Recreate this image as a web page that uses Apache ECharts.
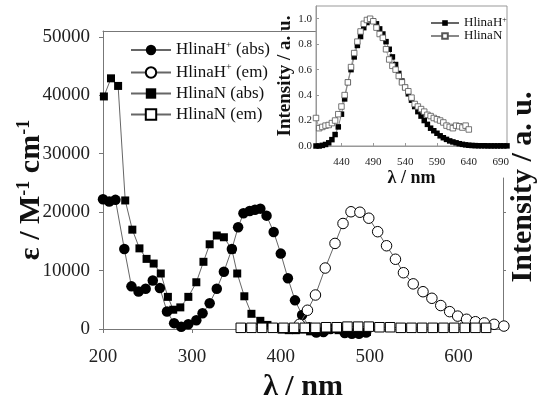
<!DOCTYPE html>
<html><head><meta charset="utf-8">
<script src="https://cdn.jsdelivr.net/npm/echarts@6/dist/echarts.min.js"></script>
<style>html,body{margin:0;padding:0;background:#fff}#c{width:540px;height:396px}</style>
</head><body><div id="c"></div>
<script>
// ---- main chart data (wavelength nm, value) ----
const hlinaHAbs = [[200,22200],[207,21800],[214,22100],[224,13700],[232,7300],[240,6400],[248,6900],[256,8300],[264,7000],[272,3000],[280,1000],[288,400],[296,800],[305,1500],[312,2700],[320,4400],[328,6900],[336,9800],[345,13700],[352,17400],[358,19800],[365,20200],[371,20400],[377,20600],[384,19400],[392,16600],[400,12900],[408,8700],[416,4900],[424,2400],[432,300],[440,-600],[448,-500],[456,0],[464,100],[472,-700],[480,-800],[488,-800],[496,-600]];
const hlinaNAbs = [[201,39800],[209,42900],[217,41600],[225,22000],[233,17000],[241,13800],[249,12000],[257,11200],[265,9500],[273,5500],[279,3300],[287,3700],[296,5500],[305,8000],[313,11500],[320,14500],[328,16000],[336,15700],[345,13600],[351,9500],[359,5600],[367,2600],[377,1400],[385,700],[393,200],[401,-100],[409,-200],[417,-200],[425,-100],[433,-400],[441,-500],[449,-300],[457,0],[465,-200],[473,-500],[481,-600],[489,-600],[497,-500]];
const hlinaHEm = [[421,0.04],[430,0.16],[439,0.29],[450,0.52],[461,0.73],[470,0.9],[479,1.0],[489,0.996],[499,0.945],[509,0.83],[519,0.71],[529,0.595],[538,0.48],[549,0.385],[560,0.318],[570,0.262],[580,0.2],[590,0.148],[599,0.11],[609,0.083],[619,0.062],[629,0.052],[640,0.04],[651,0.025]];
const hlinaNEm = [[355,0.01],[367,0.01],[379,0.01],[391,0.01],[403,0.01],[415,0.01],[427,0.01],[439,0.01],[451,0.015],[463,0.015],[475,0.02],[487,0.02],[499,0.02],[511,0.015],[523,0.015],[535,0.01],[547,0.01],[559,0.01],[571,0.01],[583,0.01],[595,0.01],[607,0.01],[619,0.01],[631,0.01]];
const mainXTicks = [200,300,400,500,600];
const mainYTicks = [0,10000,20000,30000,40000,50000];
const rightYTicks = [0.5,1.0];

// ---- inset data ----
const insetWlH = [400,405,410,415,420,425,430,435,440,445,450,455,460,465,470,475,480,485,490,495,500,505,510,515,520,525,530,535,540,545,550,555,560,565,570,575,580,585,590,595,600,605,610,615,620,625,630,635,640,645,650,655,660,665,670,675,680,685,690,695,700];
const insetHlinaH = [0,0,0.005,0.012,0.025,0.05,0.09,0.15,0.25,0.37,0.5,0.6,0.7,0.79,0.86,0.93,0.97,0.99,0.98,0.96,0.92,0.88,0.82,0.76,0.7,0.64,0.57,0.51,0.46,0.41,0.36,0.31,0.27,0.235,0.2,0.17,0.14,0.12,0.1,0.08,0.065,0.052,0.04,0.032,0.025,0.018,0.013,0.009,0.006,0.004,0.003,0.002,0.002,0.002,0.001,0.001,0.001,0.001,0.001,0.001,0.001];
const insetWlN = [400,405,410,415,420,425,430,435,440,445,450,455,460,465,470,475,480,485,490,495,500,505,510,515,520,525,530,535,540,545,550,555,560,565,570,575,580,585,590,595,600,605,610,615,620,625,630,635,640];
const insetHlinaN = [0.22,0.14,0.15,0.16,0.165,0.18,0.2,0.25,0.31,0.4,0.5,0.62,0.73,0.82,0.9,0.96,0.99,1.0,0.98,0.93,0.88,0.85,0.76,0.68,0.63,0.6,0.55,0.5,0.46,0.43,0.38,0.33,0.31,0.29,0.27,0.245,0.235,0.22,0.21,0.2,0.185,0.16,0.15,0.14,0.16,0.155,0.145,0.16,0.13];
const insetXTicks = [440,490,540,590,640,690];
const insetYTicks = [0,0.2,0.4,0.6,0.8,1.0];

const FONT = '"Liberation Serif","Times New Roman",serif';
const AX = '#777';
function supFmt(n){
  const i = n.indexOf('+');
  if (i < 0) return '{t|' + n + '}';
  return '{t|' + n.slice(0,i) + '}{s|+}{t|' + n.slice(i+1) + '}';
}
const chart = echarts.init(document.getElementById('c'), null, {renderer:'canvas'});
const option = {
  animation: false,
  backgroundColor: '#fff',
  grid: [
    {left:103, right:37, top:31, bottom:67, outerBoundsMode:'none', containLabel:false},
    {left:103, right:37, top:178, bottom:67, outerBoundsMode:'none', containLabel:false},
    {left:316, right:33, top:6, bottom:250, outerBoundsMode:'none', containLabel:false,
     show:true, backgroundColor:'#fff', borderColor:'#999', borderWidth:1, z:10}
  ],
  xAxis: [
    {gridIndex:0, type:'value', min:200, max:650, position:'bottom',
     axisLine:{show:true, lineStyle:{color:AX}},
     axisTick:{show:true, length:4, lineStyle:{color:AX}, customValues:mainXTicks},
     axisLabel:{customValues:mainXTicks, formatter:v=>String(v), fontSize:19, color:'#222', fontFamily:FONT, margin:19},
     splitLine:{show:false},
     name:'λ / nm', nameLocation:'middle', nameGap:37,
     nameTextStyle:{fontSize:30, fontWeight:'bold', fontFamily:FONT, color:'#111'}},
    {gridIndex:0, type:'value', min:200, max:650, position:'top',
     axisLine:{show:true, lineStyle:{color:AX}}, axisTick:{show:false}, axisLabel:{show:false}, splitLine:{show:false}},
    {gridIndex:1, type:'value', min:200, max:650, show:false},
    {gridIndex:2, type:'value', min:400, max:700, z:11,
     axisLine:{show:true, lineStyle:{color:'#999'}},
     axisTick:{show:true, inside:true, length:3, lineStyle:{color:'#999'}, customValues:insetXTicks},
     axisLabel:{customValues:insetXTicks, formatter:v=>String(v), fontSize:11, color:'#222', fontFamily:FONT, margin:11},
     splitLine:{show:false},
     name:'λ / nm', nameLocation:'middle', nameGap:23,
     nameTextStyle:{fontSize:18, fontWeight:'bold', fontFamily:FONT, color:'#111'}}
  ],
  yAxis: [
    {gridIndex:0, type:'value', min:0, max:51000,
     axisLine:{show:true, lineStyle:{color:AX}},
     axisTick:{show:true, length:4, lineStyle:{color:AX}, customValues:mainYTicks},
     axisLabel:{customValues:mainYTicks, formatter:v=>String(v), fontSize:19, color:'#222', fontFamily:FONT, margin:13},
     splitLine:{show:false}},
    {gridIndex:1, type:'value', min:0, max:1.288, position:'right',
     axisLine:{show:true, lineStyle:{color:AX}},
     axisTick:{show:true, length:3, lineStyle:{color:AX}, customValues:rightYTicks},
     axisLabel:{show:false}, splitLine:{show:false}},
    {gridIndex:2, type:'value', min:0, max:1.1, z:11,
     axisLine:{show:true, lineStyle:{color:'#999'}},
     axisTick:{show:true, inside:true, length:3, lineStyle:{color:'#999'}, customValues:insetYTicks},
     axisLabel:{customValues:insetYTicks, formatter:v=>Number(v).toFixed(1), fontSize:11, color:'#222', fontFamily:FONT, margin:4},
     splitLine:{show:false},
     name:'Intensity / a. u.', nameLocation:'middle', nameGap:21, nameRotate:90,
     nameTextStyle:{fontSize:19, fontWeight:'bold', fontFamily:FONT, color:'#111'}}
  ],
  legend: [
    {data:['HlinaH+ (abs)','HlinaH+ (em)','HlinaN (abs)','HlinaN (em)'],
     orient:'vertical', left:125, top:35, itemWidth:40, itemHeight:13, itemGap:4,
     formatter:supFmt,
     textStyle:{fontSize:17, fontFamily:FONT, color:'#111',
       rich:{t:{fontSize:17, fontFamily:FONT, color:'#111', lineHeight:20},
             s:{fontSize:10, fontFamily:FONT, color:'#111', verticalAlign:'top', lineHeight:10}}}},
    {data:['HlinaH+','HlinaN'], orient:'vertical', left:425, top:11, itemWidth:28, itemHeight:7, itemGap:0, z:13,
     formatter:supFmt,
     textStyle:{fontSize:13, fontFamily:FONT, color:'#111',
       rich:{t:{fontSize:13, fontFamily:FONT, color:'#111', lineHeight:14},
             s:{fontSize:8, fontFamily:FONT, color:'#111', verticalAlign:'top', lineHeight:8}}}}
  ],
  graphic: [
    {type:'text', x:523, y:187, rotation:Math.PI/2, z:20,
     style:{text:'Intensity / a. u.', font:'bold 30px "Liberation Serif"', fill:'#111',
            align:'center', verticalAlign:'middle', textAlign:'center', textVerticalAlign:'middle'}},
    {type:'text', x:31, y:190, rotation:Math.PI/2, z:20,
     style:{text:'{a|ε / M}{s|-1}{a| cm}{s|-1}', fill:'#111',
            align:'center', verticalAlign:'middle', textAlign:'center', textVerticalAlign:'middle',
            rich:{a:{font:'bold 30px "Liberation Serif"', fill:'#111', lineHeight:32},
                  s:{font:'bold 18px "Liberation Serif"', fill:'#111', verticalAlign:'top', lineHeight:18}}}}
  ],
  series: [
    {name:'HlinaH+ (abs)', type:'line', xAxisIndex:0, yAxisIndex:0, data:hlinaHAbs, clip:false,
     symbol:'circle', symbolSize:10.5, itemStyle:{color:'#000'}, lineStyle:{color:'#666', width:1}, z:3},
    {name:'HlinaN (abs)', type:'line', xAxisIndex:0, yAxisIndex:0, data:hlinaNAbs, clip:false,
     symbol:'rect', symbolSize:8, itemStyle:{color:'#000'}, lineStyle:{color:'#666', width:1}, z:3},
    {name:'HlinaH+ (em)', type:'line', xAxisIndex:2, yAxisIndex:1, data:hlinaHEm, clip:false,
     symbol:'circle', symbolSize:10.5, itemStyle:{color:'#fff', borderColor:'#000', borderWidth:1},
     lineStyle:{color:'#666', width:1}, z:4},
    {name:'HlinaN (em)', type:'line', xAxisIndex:2, yAxisIndex:1, data:hlinaNEm, clip:false,
     symbol:'rect', symbolSize:9.5, itemStyle:{color:'#fff', borderColor:'#000', borderWidth:1},
     lineStyle:{color:'#666', width:1}, z:4},
    {name:'HlinaH+', type:'line', xAxisIndex:3, yAxisIndex:2, z:12,
     data:insetWlH.map((w,i)=>[w, insetHlinaH[i]]),
     symbol:'rect', symbolSize:5.5, itemStyle:{color:'#000'}, lineStyle:{color:'#666', width:0.8}},
    {name:'HlinaN', type:'line', xAxisIndex:3, yAxisIndex:2, z:12,
     data:insetWlN.map((w,i)=>[w, insetHlinaN[i]]),
     symbol:'rect', symbolSize:5.5, itemStyle:{color:'#fff', borderColor:'#555', borderWidth:0.8}, lineStyle:{color:'#888', width:0.8}}
  ]
};
chart.setOption(option);
</script>
</body></html>
